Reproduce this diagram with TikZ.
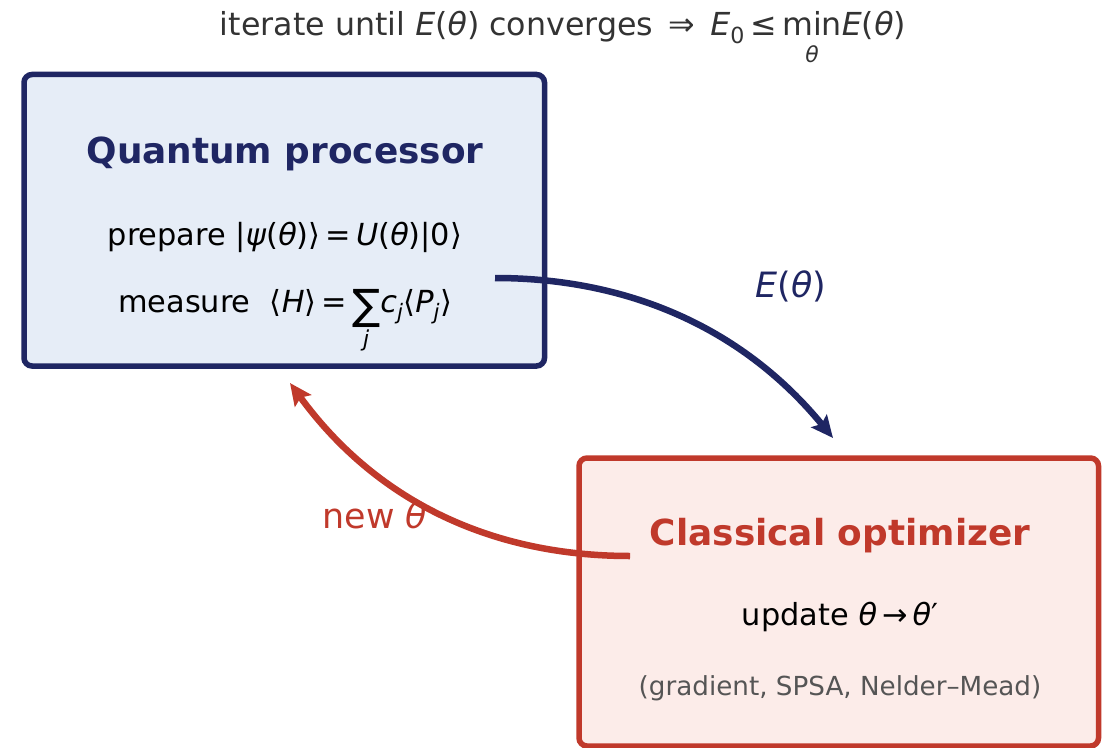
\documentclass[tikz,border=0pt]{standalone}
\usepackage{fontspec}
\setmainfont{DejaVu Sans}
\usetikzlibrary{arrows.meta}

\definecolor{navy}{HTML}{1F2663}
\definecolor{brick}{HTML}{C0392B}
\definecolor{qfill}{HTML}{E6EDF7}
\definecolor{cfill}{HTML}{FCECE9}
\definecolor{ink}{HTML}{333333}
\definecolor{muted}{HTML}{555555}

% italic symbol, and a symbol with a limit set underneath it
\newcommand{\vi}[1]{\textit{#1}}
\newcommand{\under}[3]{\vtop{\halign{\hfil##\hfil\cr #1\cr\noalign{\kern#3}#2\cr}}}

\tikzset{
  panel/.style={draw, line width=5.5bp, rounded corners=8bp},
  heading/.style={anchor=base, inner sep=0pt, font=\fontsize{36}{40}\selectfont\bfseries},
  body/.style={anchor=base, inner sep=0pt, font=\fontsize{30.5}{34}\selectfont},
  flow/.style={line width=6.5bp, -{Stealth[length=22bp, width=20bp, inset=4bp]}},
  tag/.style={anchor=base, inner sep=0pt, font=\fontsize{35}{40}\selectfont},
}

\begin{document}
\begin{tikzpicture}[x=1bp, y=-1bp]
\useasboundingbox (0,0) rectangle (1107,748);

% title line
\node[body, text=ink, font=\fontsize{31.8}{35}\selectfont] (title) at (563,36)
  {iterate until \vi{E}(\vi{θ}) converges \,⇒\, \vi{E}\textsubscript{0}\,≤\,\under{min}{\fontsize{22}{22}\selectfont\vi{θ}}{-8bp}\vi{E}(\vi{θ})};

% the two panels
\draw[panel, navy, fill=qfill] (24,74.5) rectangle (544.5,366);
\node[inner sep=0pt] (qp) at (284.25,220.25) {};
\draw[panel, brick, fill=cfill] (579,458) rectangle (1098.5,746);
\node[inner sep=0pt] (co) at (838.75,602) {};

% quantum processor contents
\node[heading, text=navy] (qtitle) at (285,163) {Quantum processor};
\node[body] (prep) at (285,245)
  {prepare |\vi{ψ}(\vi{θ})⟩\,=\,\vi{U}(\vi{θ})|0⟩};
\node[body] (meas) at (285,312)
  {measure \ ⟨\vi{H}⟩\,=\,\under{\raisebox{-7bp}{\fontsize{42}{42}\selectfont∑}}{\fontsize{22}{22}\selectfont\vi{j}}{1bp}\vi{c}\textsubscript{\vi{j}}⟨\vi{P}\textsubscript{\vi{j}}⟩};

% classical optimizer contents
\node[heading, text=brick] (ctitle) at (840,545) {Classical optimizer};
\node[body] (upd) at (840,625) {update \vi{θ}\,→\,\vi{θ}′};
\node[body, text=muted, font=\fontsize{26.3}{30}\selectfont] (meth) at (840,695)
  {(gradient, SPSA, Nelder–Mead)};

% feedback loop
\coordinate (qout) at (495,278);
\coordinate (cin) at (833,438);
\coordinate (cout) at (630,556);
\coordinate (qin) at (290,383);
\draw[flow, navy] (qout) .. controls (632.9,278) and (745.6,331.3) .. (cin);
\draw[flow, brick] (cout) .. controls (487.5,556) and (374.1,498.3) .. (qin);

\node[tag, text=navy] (elabel) at (791,297) {\vi{E}(\vi{θ})};
\node[tag, text=brick] (nlabel) at (375,528) {new \vi{θ}};
\end{tikzpicture}
\end{document}
